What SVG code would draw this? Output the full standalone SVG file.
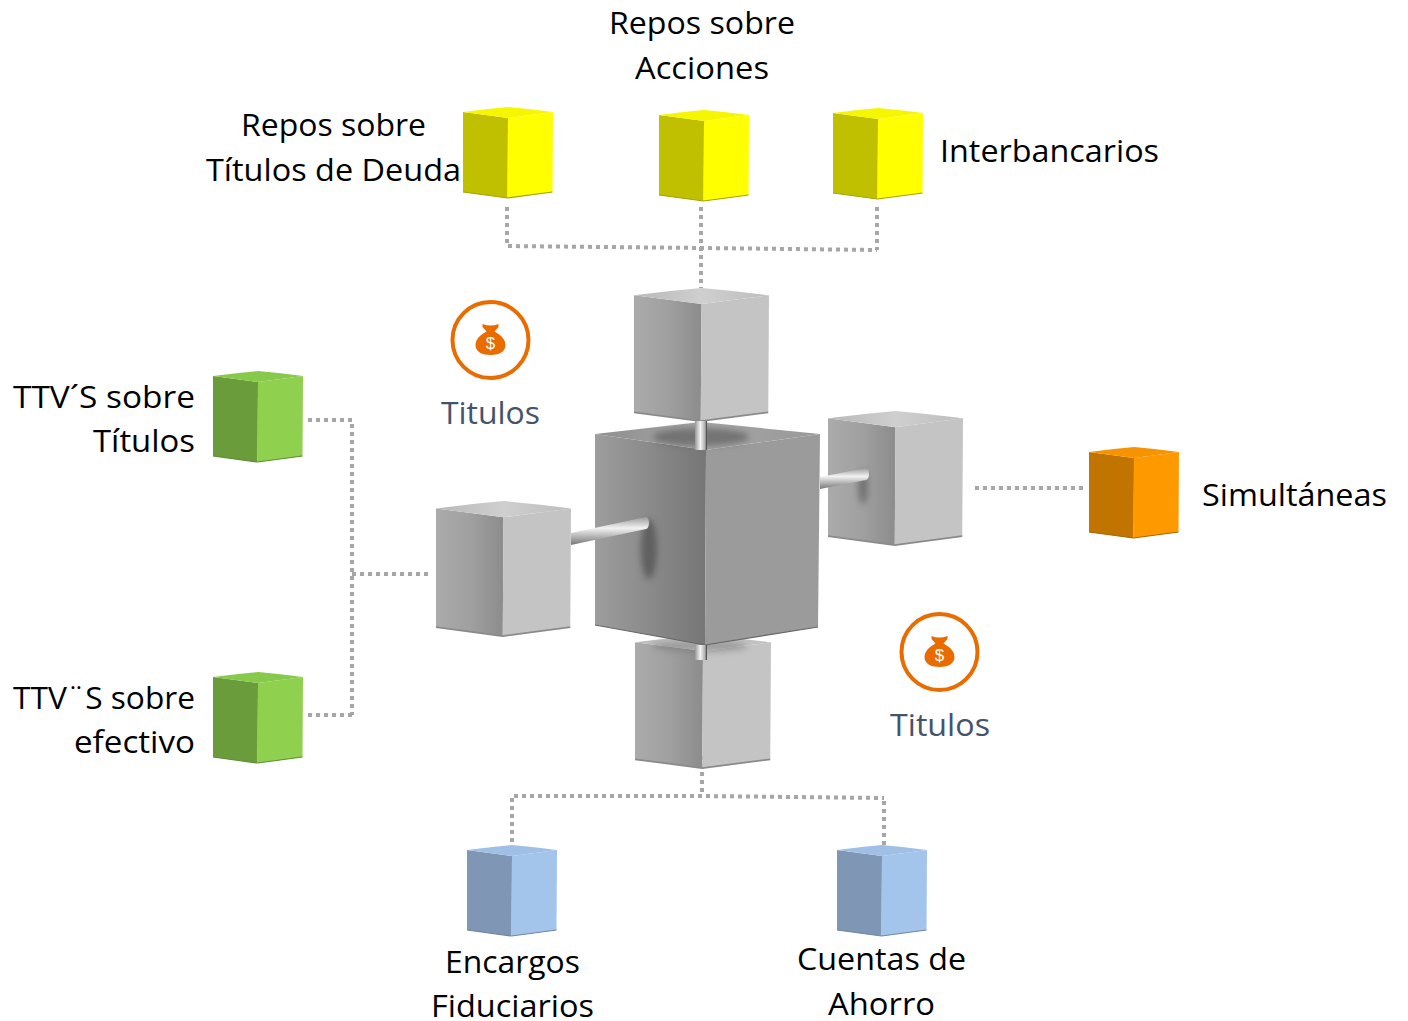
<svg xmlns="http://www.w3.org/2000/svg" width="1408" height="1021" viewBox="0 0 1408 1021">
<style>
text{font-family:"Open Sans","Noto Sans","Liberation Sans",sans-serif;font-size:31px;fill:#000}
text.t{fill:#44546a}
text.d{font-size:17px;fill:#fff;font-family:"Liberation Sans",sans-serif}
.c{fill:none;stroke:#a6a6a6;stroke-width:4;stroke-dasharray:4 4}
.ring{fill:none;stroke:#e96c00;stroke-width:4}
.bag{fill:#e96c00}
.face-l{fill:var(--l)}.face-r{fill:var(--r)}.face-t{fill:var(--t)}.face-b{fill:none;stroke:var(--b);stroke-width:1.2}
.yellow{--l:#c0c000;--r:#ffff00;--t:#f6f600;--b:#a3a300}
.green{--l:#6b9c3c;--r:#8fd14f;--t:#87c94a;--b:#5d8a33}
.orange{--l:#c27400;--r:#ff9900;--t:#f59300;--b:#a86500}
.blue{--l:#7f96b5;--r:#a4c5eb;--t:#9fbfe4;--b:#6f84a1}
.grey{--l:url(#gl);--r:#c4c4c4;--t:url(#gt);--b:#8a8a8a}
.big{--l:url(#gc);--r:#9b9b9b;--t:url(#gt2);--b:#666}
</style>
<defs>
<linearGradient id="gl"><stop offset="0" stop-color="#ababab"/><stop offset=".5" stop-color="#a0a0a0"/><stop offset="1" stop-color="#8c8c8c"/></linearGradient>
<linearGradient id="gc"><stop offset="0" stop-color="#9d9d9d"/><stop offset=".55" stop-color="#888"/><stop offset="1" stop-color="#767676"/></linearGradient>
<linearGradient id="gt"><stop offset="0" stop-color="#b8b8b8"/><stop offset=".5" stop-color="#cfcfcf"/><stop offset="1" stop-color="#bdbdbd"/></linearGradient>
<linearGradient id="gt2"><stop offset="0" stop-color="#8f8f8f"/><stop offset=".5" stop-color="#a5a5a5"/><stop offset="1" stop-color="#999"/></linearGradient>
<linearGradient id="rodh" x1="0" y1="0" x2="0" y2="1"><stop offset="0" stop-color="#9a9a9a"/><stop offset=".4" stop-color="#f2f2f2"/><stop offset="1" stop-color="#777"/></linearGradient>
<linearGradient id="rodv"><stop offset="0" stop-color="#999"/><stop offset=".45" stop-color="#f4f4f4"/><stop offset=".85" stop-color="#aaa"/><stop offset="1" stop-color="#333"/></linearGradient>
<filter id="blur" x="-50%" y="-50%" width="200%" height="200%"><feGaussianBlur stdDeviation="3"/></filter>
<g id="cube">
<path class="face-l" d="M0 5 45 11 44.500 91 0 85Z"/>
<path class="face-r" d="M45 11 90 5 89.500 85 44.500 91Z"/>
<path class="face-t" d="M0 5 Q22 2 45 0 Q68 2 90 5 L45 11Z"/>
<path class="face-b" d="M0 85 44.500 91 89.500 85"/>
</g>
<g id="sack">
<path class="ring" d="M-38 0A38 38 0 1 0 38 0A38 38 0 1 0 -38 0Z"/>
<path class="bag" d="M-8-16Q0-13 8-16L8-13 4-8.500C11-5 15 0 15 5 15 12 8 15 0 15-8 15-15 12-15 5-15 0-11-5-4-8.500L-8-13Z"/>
<text class="d" x="0" y="9" text-anchor="middle">$</text>
</g>
</defs>

<g id="connectors">
<path class="c" d="M507 207V246L701 248 877 250"/>
<path class="c" d="M877 207V250"/>
<path class="c" d="M701 207V288"/>
<path class="c" d="M308 420H352V715"/>
<path class="c" d="M308 715H352"/>
<path class="c" d="M352 574H428"/>
<path class="c" d="M975 488H1085"/>
<path class="c" d="M702 756V796"/>
<path class="c" d="M512 842V796L702 796 884 798"/>
<path class="c" d="M884 845V798"/>
</g>

<g id="node-core">
<g id="cube-bottom" class="grey"><use href="#cube" transform="translate(635 635) scale(1.511 1.462)"/></g>
<ellipse cx="700" cy="646" rx="48" ry="6" fill="#777" opacity=".55" filter="url(#blur)"/>
<g id="cube-top" class="grey"><use href="#cube" transform="translate(634 288) scale(1.5 1.462)"/></g>
<g id="cube-left" class="grey"><use href="#cube" transform="translate(436 501) scale(1.5 1.484)"/></g>
<g id="cube-right" class="grey"><use href="#cube" transform="translate(828 411) scale(1.5 1.473)"/>
<ellipse cx="863" cy="487" rx="5" ry="17" fill="#555" opacity=".6" filter="url(#blur)"/></g>
<g id="cube-center" class="big"><path class="face-l" d="M595 434 706 450 705 645 595 625Z"/>
<path class="face-r" d="M706 450 820 434 818 627 705 645Z"/>
<path class="face-t" d="M595 434 701 422 820 434 706 450Z"/>
<path class="face-b" d="M595 625 705 645 818 627"/>
<ellipse cx="701" cy="437" rx="48" ry="9" fill="#555" opacity=".6" filter="url(#blur)"/>
<ellipse cx="649" cy="549" rx="8" ry="30" fill="#4a4a4a" opacity=".65" filter="url(#blur)"/></g>
<g id="rods">
<path d="M571 533 646 517A3 6 0 0 1 646 529L571 545Z" fill="url(#rodh)"/>
<path d="M820 477 866 468A3 6 0 0 1 866 480L820 489Z" fill="url(#rodh)"/>
<rect x="695" y="421" width="12" height="29" fill="url(#rodv)"/>
<rect x="695" y="645" width="12" height="15" fill="url(#rodv)"/>
</g>
</g>

<g id="node-repos-deuda" class="yellow"><use href="#cube" transform="translate(463 107)"/>
<text x="241" y="136" textLength="185" lengthAdjust="spacingAndGlyphs">Repos sobre</text>
<text x="206" y="181" textLength="255" lengthAdjust="spacingAndGlyphs">Títulos de Deuda</text></g>
<g id="node-repos-acciones" class="yellow"><use href="#cube" transform="translate(659 110)"/>
<text x="609" y="34" textLength="186" lengthAdjust="spacingAndGlyphs">Repos sobre</text>
<text x="635" y="79" textLength="134" lengthAdjust="spacingAndGlyphs">Acciones</text></g>
<g id="node-interbancarios" class="yellow"><use href="#cube" transform="translate(833 108)"/>
<text x="940" y="162" textLength="219" lengthAdjust="spacingAndGlyphs">Interbancarios</text></g>
<g id="node-ttv-titulos" class="green"><use href="#cube" transform="translate(213 371)"/>
<text x="13" y="408" textLength="182" lengthAdjust="spacingAndGlyphs">TTV´S sobre</text>
<text x="93" y="452" textLength="102" lengthAdjust="spacingAndGlyphs">Títulos</text></g>
<g id="node-ttv-efectivo" class="green"><use href="#cube" transform="translate(213 672)"/>
<text x="13" y="709" textLength="182" lengthAdjust="spacingAndGlyphs">TTV¨S sobre</text>
<text x="74" y="753" textLength="121" lengthAdjust="spacingAndGlyphs">efectivo</text></g>
<g id="node-simultaneas" class="orange"><use href="#cube" transform="translate(1089 447)"/>
<text x="1202" y="506" textLength="185" lengthAdjust="spacingAndGlyphs">Simultáneas</text></g>
<g id="node-encargos" class="blue"><use href="#cube" transform="translate(467 845)"/>
<text x="445" y="973" textLength="135" lengthAdjust="spacingAndGlyphs">Encargos</text>
<text x="431" y="1017" textLength="163" lengthAdjust="spacingAndGlyphs">Fiduciarios</text></g>
<g id="node-ahorro" class="blue"><use href="#cube" transform="translate(837 845)"/>
<text x="797" y="970" textLength="169" lengthAdjust="spacingAndGlyphs">Cuentas de</text>
<text x="828" y="1015" textLength="107" lengthAdjust="spacingAndGlyphs">Ahorro</text></g>

<g id="node-titulos-1"><use href="#sack" transform="translate(490.500 340)"/>
<text class="t" x="441" y="424" textLength="99" lengthAdjust="spacingAndGlyphs">Titulos</text></g>
<g id="node-titulos-2"><use href="#sack" transform="translate(939.500 652)"/>
<text class="t" x="890" y="736" textLength="100" lengthAdjust="spacingAndGlyphs">Titulos</text></g>
</svg>
